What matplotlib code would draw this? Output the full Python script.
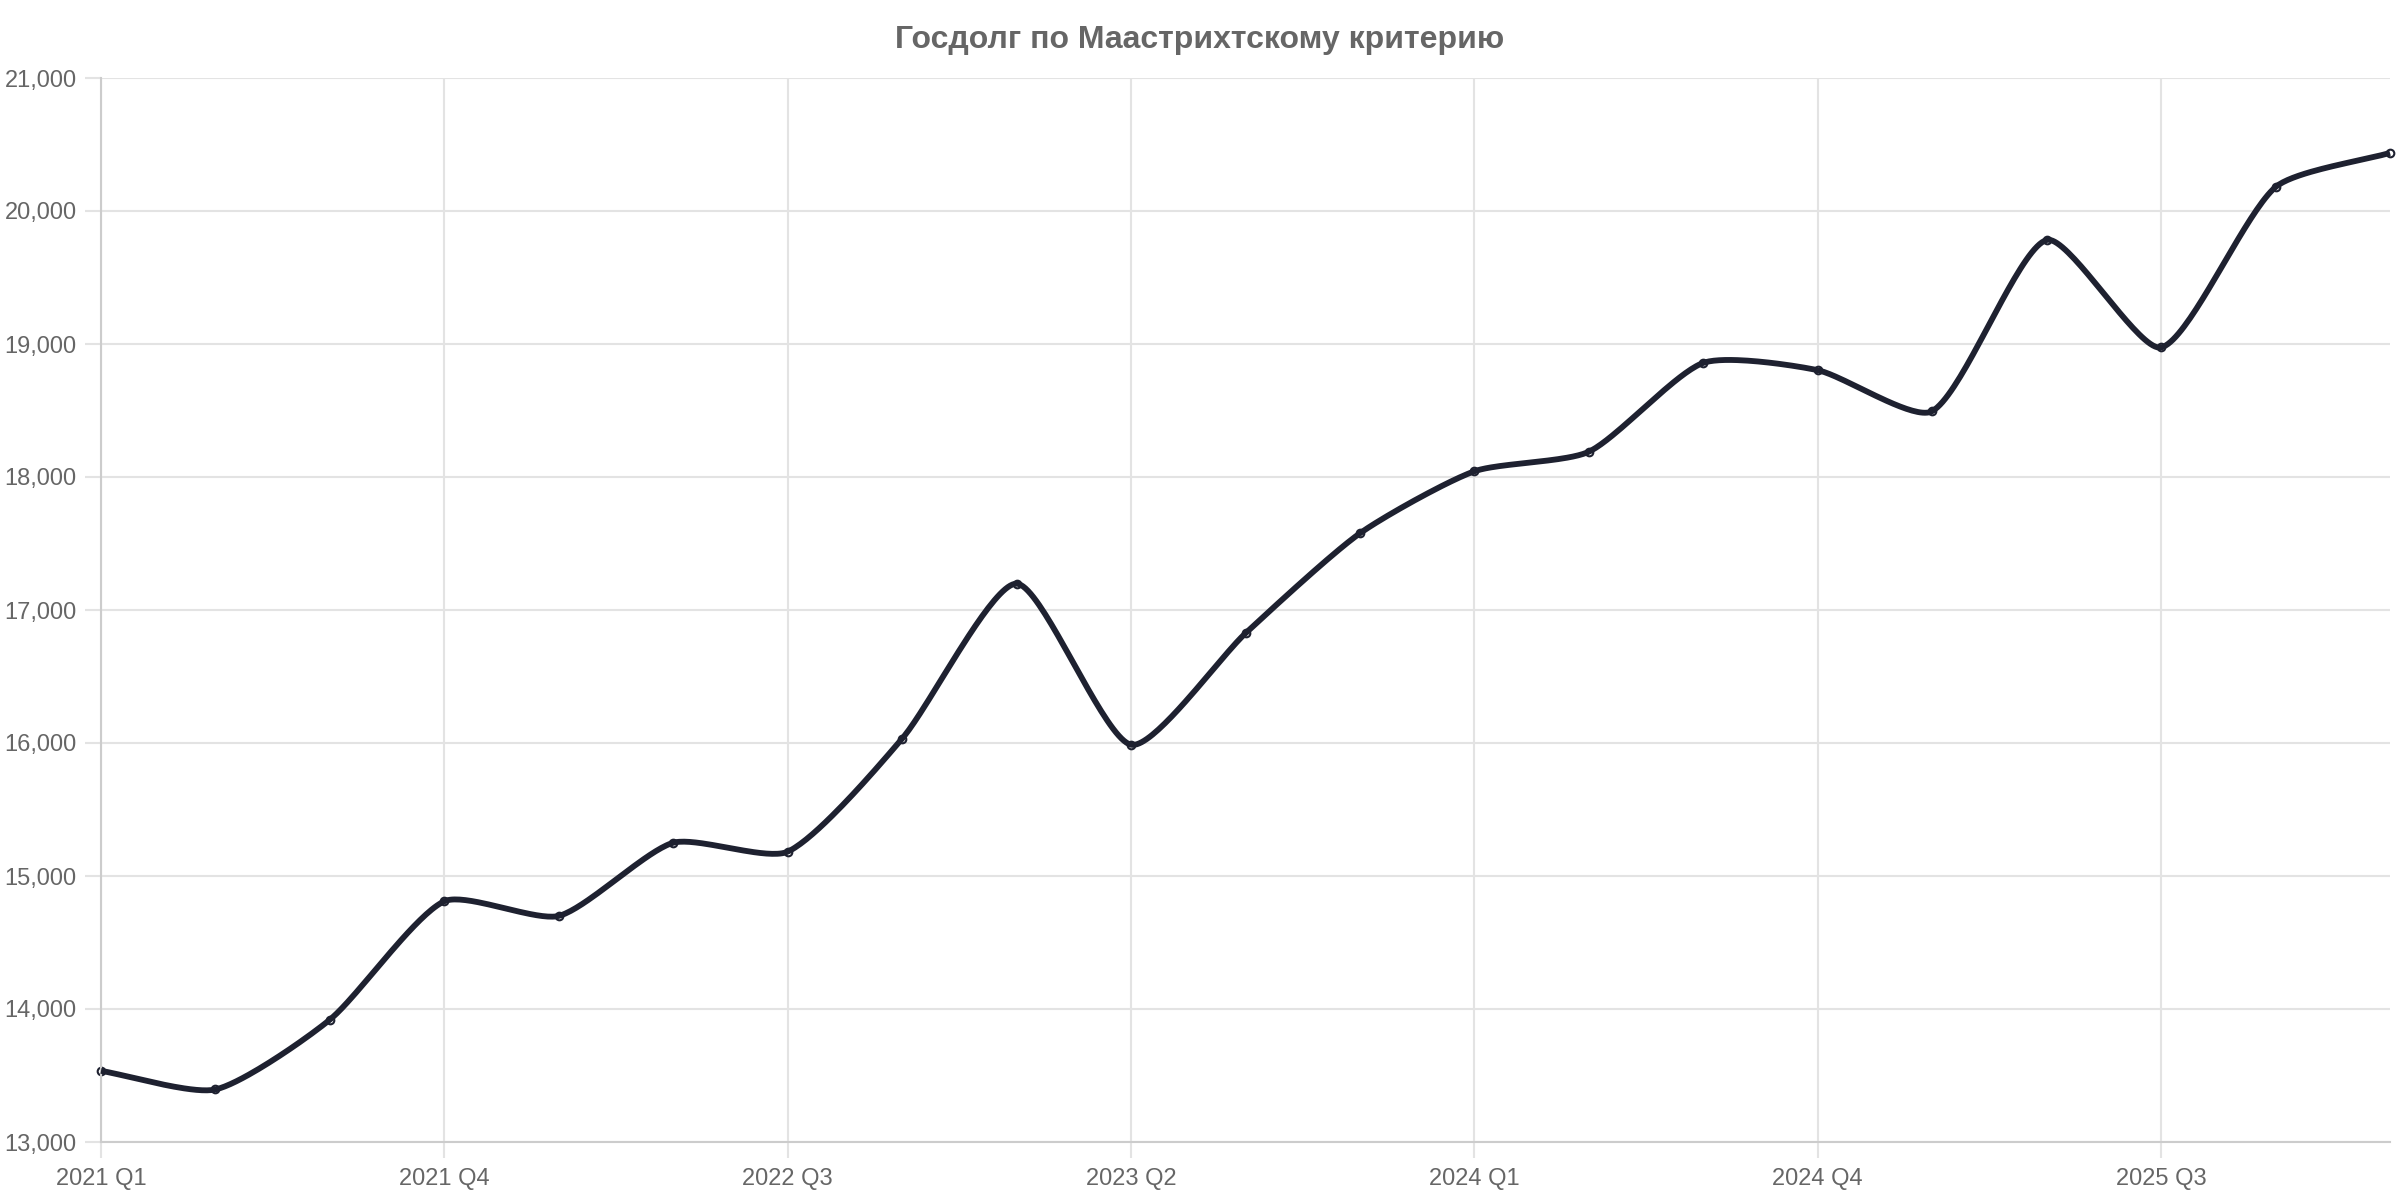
import numpy as np
import matplotlib
matplotlib.use("Agg")
import matplotlib.pyplot as plt
from matplotlib.ticker import FuncFormatter

plt.rcParams['font.family'] = ['Liberation Sans', 'DejaVu Sans']

title = "Госдолг по Маастрихтскому критерию"

quarters = ["2021 Q1", "2021 Q2", "2021 Q3", "2021 Q4",
            "2022 Q1", "2022 Q2", "2022 Q3", "2022 Q4",
            "2023 Q1", "2023 Q2", "2023 Q3", "2023 Q4",
            "2024 Q1", "2024 Q2", "2024 Q3", "2024 Q4",
            "2025 Q1", "2025 Q2", "2025 Q3", "2025 Q4",
            "2026 Q1"]
debt = [13535, 13395, 13920, 14810, 14700, 15250, 15183, 16033, 17198, 15987,
        16825, 17577, 18043, 18190, 18858, 18803, 18495, 19782, 18974, 20180,
        20437]
y_ticks = [13000, 14000, 15000, 16000, 17000, 18000, 19000, 20000, 21000]
x_label_every = 3

line_color = "#1e2130"
grid_color = "#e3e3e3"
text_color = "#666666"


def chartjs_spline(px, py, t=0.4, n=40):
    # same control points as chart.js splineCurve, done in pixel space
    pts = np.column_stack([px, py])
    m = len(pts)
    cp_prev = np.zeros_like(pts)
    cp_next = np.zeros_like(pts)
    for i in range(m):
        prev = pts[i - 1] if i > 0 else pts[i]
        cur = pts[i]
        nxt = pts[i + 1] if i < m - 1 else pts[i]
        d01 = np.hypot(*(cur - prev))
        d12 = np.hypot(*(nxt - cur))
        tot = d01 + d12
        s01 = d01 / tot if tot else 0
        s12 = d12 / tot if tot else 0
        cp_prev[i] = cur - t * s01 * (nxt - prev)
        cp_next[i] = cur + t * s12 * (nxt - prev)
    out = [pts[0]]
    u = np.linspace(0, 1, n)[1:, None]
    for i in range(m - 1):
        p0, p1, p2, p3 = pts[i], cp_next[i], cp_prev[i + 1], pts[i + 1]
        seg = ((1 - u) ** 3) * p0 + 3 * ((1 - u) ** 2) * u * p1 + 3 * (1 - u) * u ** 2 * p2 + u ** 3 * p3
        out.extend(seg)
    return np.array(out)


fig = plt.figure(figsize=(24, 12), dpi=100)
ax = fig.add_axes([101 / 2400, 1 - 1142 / 1200, (2390 - 101) / 2400, (1142 - 78) / 1200])

x = np.arange(len(quarters))
ax.set_xlim(0, len(quarters) - 1)
ax.set_ylim(y_ticks[0], y_ticks[-1])

# smooth line through the points
disp = ax.transData.transform(np.column_stack([x, debt]))
curve = chartjs_spline(disp[:, 0], disp[:, 1], t=0.22)
curve = ax.transData.inverted().transform(curve)
ax.plot(curve[:, 0], curve[:, 1], color=line_color, lw=4.2, zorder=3,
        solid_capstyle='butt', solid_joinstyle='round', clip_on=False)
ax.plot(x, debt, 'o', ms=5.5, mfc='white', mec=line_color, mew=1.5, zorder=2, clip_on=False)

ax.set_yticks(y_ticks)
ax.yaxis.set_major_formatter(FuncFormatter(lambda v, p: f"{int(v):,}"))
ax.set_xticks(x[::x_label_every])
ax.set_xticklabels(quarters[::x_label_every])

ax.grid(True, color=grid_color, lw=1.5, zorder=0)
ax.set_axisbelow(True)
for s in ['top', 'right']:
    ax.spines[s].set_visible(False)
for s in ['left', 'bottom']:
    ax.spines[s].set_color('#cccccc')
    ax.spines[s].set_linewidth(1.5)
ax.tick_params(axis='both', length=11.5, width=1.5, color=grid_color,
               labelsize=17, labelcolor=text_color)
ax.tick_params(axis='y', pad=6)
ax.tick_params(axis='x', pad=7)

fig.text(0.5, 1 - 40 / 1200, title, ha='center', va='center',
         fontsize=23, fontweight='bold', color=text_color)

fig.savefig("out.png", dpi=100, facecolor='white')
